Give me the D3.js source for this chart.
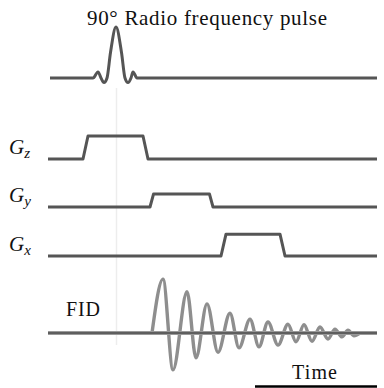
<!DOCTYPE html>
<html>
<head>
<meta charset="utf-8">
<script src="https://cdn.jsdelivr.net/npm/d3@7/dist/d3.min.js"></script>
<style>
  html, body { margin: 0; padding: 0; background: #fff; }
  svg { display: block; }
  text { font-family: "Liberation Serif", "DejaVu Serif", serif; fill: #111; }
</style>
</head>
<body>
<svg id="chart" width="384" height="388"></svg>
<script>
// ---------------- data ----------------
const titleText = "90\u00B0 Radio frequency pulse";
const timeLabel = "Time";
const fidLabel = "FID";

// RF pulse (sinc-like) knots: time (a.u.) and normalized amplitude
const rfTime = [2, 45, 50, 53, 56, 59, 62.5, 68, 73.5, 77, 80, 83, 85, 89, 329];
const rfAmp  = [0, 0, 0.12, 0, -0.09, 0, 0.5, 1, 0.5, 0, -0.09, 0, 0.12, 0, 0];

// Gradient trapezoids
const gradNames = ["z", "y", "x"];
const gradStart = [35, 102, 173];
const gradRamp  = [5, 3.5, 5];
const gradFlat  = [55, 56, 54];
const gradAmp   = [1.0, 0.56, 0.95];

// Free induction decay extrema
const fidTime = [104, 115, 125, 139, 148, 159, 170, 182, 191, 202, 211, 220, 230, 240, 248, 256, 264, 272, 280, 287, 294, 300, 306, 312];
const fidAmp  = [0, 0.98, -0.67, 0.75, -0.45, 0.53, -0.35, 0.36, -0.27, 0.25, -0.25, 0.2, -0.22, 0.16, -0.16, 0.15, -0.15, 0.11, -0.11, 0.07, -0.07, 0.05, -0.05, 0];

const timeDomain = [0, 329];
const timeBarStart = 207;

// ---------------- layout ----------------
const layout = {
  rowBase: { RF: 78, Gz: 159, Gy: 207, Gx: 256, FID: 333 },
  rfHeight: 51,
  gradHeight: 23,
  fidHeight: 55
};

const svg = d3.select("#chart");
const x = d3.scaleLinear().domain(timeDomain).range([48, 377]);

function ampScale(base, h) {
  return d3.scaleLinear().domain([-1, 1]).range([base + h, base - h]);
}

// faint vertical guide through the RF peak
svg.append("line")
  .attr("x1", x(68.5)).attr("x2", x(68.5))
  .attr("y1", 88).attr("y2", 345)
  .attr("stroke", "#ededed").attr("stroke-width", 1.5);

// title
svg.append("text")
  .attr("x", 207).attr("y", 25)
  .attr("text-anchor", "middle")
  .attr("font-size", 21)
  .attr("textLength", 240)
  .attr("lengthAdjust", "spacing")
  .text(titleText);

// RF pulse
const yRF = ampScale(layout.rowBase.RF, layout.rfHeight);
const rfData = rfTime.map((t, i) => [t, rfAmp[i]]);
svg.append("path")
  .datum(rfData)
  .attr("fill", "none")
  .attr("stroke", "#555")
  .attr("stroke-width", 3)
  .attr("stroke-linejoin", "round")
  .attr("d", d3.line().x(d => x(d[0])).y(d => yRF(d[1])).curve(d3.curveMonotoneX));

// Gradients
gradNames.forEach((g, i) => {
  const base = layout.rowBase["G" + g];
  const yG = ampScale(base, layout.gradHeight);
  const s = gradStart[i], r = gradRamp[i], f = gradFlat[i], a = gradAmp[i];
  const pts = [[timeDomain[0], 0], [s, 0], [s + r, a], [s + r + f, a], [s + 2 * r + f, 0], [timeDomain[1], 0]];
  svg.append("path")
    .datum(pts)
    .attr("fill", "none")
    .attr("stroke", "#555")
    .attr("stroke-width", 3)
    .attr("stroke-linejoin", "round")
    .attr("d", d3.line().x(d => x(d[0])).y(d => yG(d[1])));

  const lab = svg.append("text")
    .attr("x", 9).attr("y", base - 5)
    .attr("font-size", 21)
    .attr("font-style", "italic");
  lab.append("tspan").text("G");
  lab.append("tspan").attr("font-size", 15).attr("dy", 4).text(g);
});

// FID
const yF = ampScale(layout.rowBase.FID, layout.fidHeight);
const fidData = fidTime.map((t, i) => [t, fidAmp[i]]);
svg.append("path")
  .datum(fidData)
  .attr("fill", "none")
  .attr("stroke", "#8e8e8e")
  .attr("stroke-width", 3.4)
  .attr("stroke-linejoin", "round")
  .attr("d", d3.line().x(d => x(d[0])).y(d => yF(d[1])).curve(d3.curveMonotoneX));

// FID baseline (gray halo with dark core)
svg.append("line")
  .attr("x1", x(timeDomain[0])).attr("x2", x(timeDomain[1]))
  .attr("y1", yF(0)).attr("y2", yF(0))
  .attr("stroke", "#9a9a9a").attr("stroke-width", 4);
svg.append("line")
  .attr("x1", x(timeDomain[0])).attr("x2", x(timeDomain[1]))
  .attr("y1", yF(0)).attr("y2", yF(0))
  .attr("stroke", "#4a4a4a").attr("stroke-width", 1.6);

svg.append("text")
  .attr("x", 66).attr("y", 316)
  .attr("font-size", 20)
  .attr("textLength", 34)
  .attr("lengthAdjust", "spacing")
  .text(fidLabel);

// Time bar
svg.append("line")
  .attr("x1", x(timeBarStart)).attr("x2", x(timeDomain[1]))
  .attr("y1", 386.5).attr("y2", 386.5)
  .attr("stroke", "#000").attr("stroke-width", 2.5);
svg.append("text")
  .attr("x", 292).attr("y", 379)
  .attr("font-size", 20)
  .attr("textLength", 45)
  .attr("lengthAdjust", "spacing")
  .text(timeLabel);
</script>
</body>
</html>
